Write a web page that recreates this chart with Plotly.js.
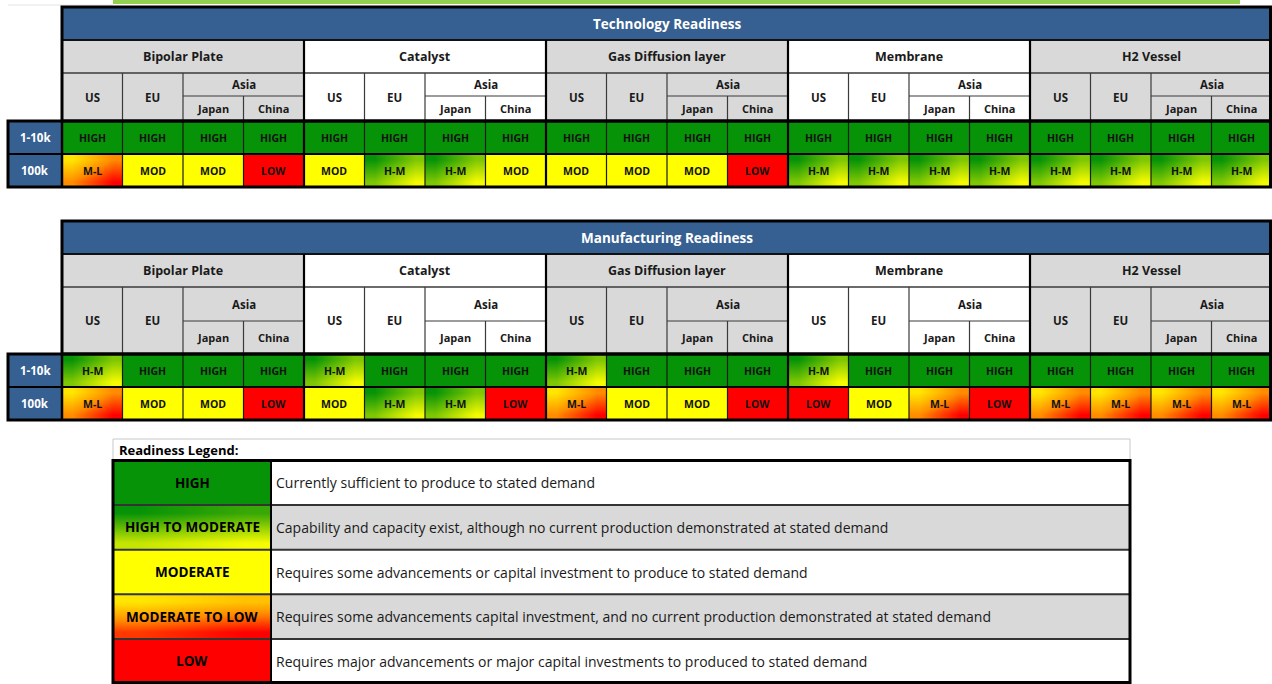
<!DOCTYPE html>
<html><head><meta charset="utf-8">
<script src="https://cdn.plot.ly/plotly-3.0.1.min.js"></script>
<style>html,body{margin:0;padding:0;background:#fff;overflow:hidden}#chart{width:1272px;height:684px}</style>
</head><body><div id="chart"></div>
<script>
// ---------------- data ----------------
const tableTitles = ['Technology Readiness', 'Manufacturing Readiness'];
const components = ['Bipolar Plate', 'Catalyst', 'Gas Diffusion layer', 'Membrane', 'H2 Vessel'];
const regions = ['US', 'EU', 'Japan', 'China'];
const regionGroup = 'Asia';
const volumes = ['1-10k', '100k'];

const techLow  = ['HIGH','HIGH','HIGH','HIGH', 'HIGH','HIGH','HIGH','HIGH', 'HIGH','HIGH','HIGH','HIGH', 'HIGH','HIGH','HIGH','HIGH', 'HIGH','HIGH','HIGH','HIGH'];
const techHigh = ['M-L','MOD','MOD','LOW', 'MOD','H-M','H-M','MOD', 'MOD','MOD','MOD','LOW', 'H-M','H-M','H-M','H-M', 'H-M','H-M','H-M','H-M'];
const mfgLow   = ['H-M','HIGH','HIGH','HIGH', 'H-M','HIGH','HIGH','HIGH', 'H-M','HIGH','HIGH','HIGH', 'H-M','HIGH','HIGH','HIGH', 'HIGH','HIGH','HIGH','HIGH'];
const mfgHigh  = ['M-L','MOD','MOD','LOW', 'MOD','H-M','H-M','LOW', 'M-L','MOD','MOD','LOW', 'LOW','MOD','M-L','LOW', 'M-L','M-L','M-L','M-L'];

const legendTitle = 'Readiness Legend:';
const legendCodes = ['HIGH', 'H-M', 'MOD', 'M-L', 'LOW'];
const legendLabels = ['HIGH', 'HIGH TO MODERATE', 'MODERATE', 'MODERATE TO LOW', 'LOW'];
const legendText = [
  'Currently sufficient to produce to stated demand',
  'Capability and capacity exist, although no current production demonstrated at stated demand',
  'Requires some advancements or capital investment to produce to stated demand',
  'Requires some advancements capital investment, and no current production demonstrated at stated demand',
  'Requires major advancements or major capital investments to produced to stated demand'
];

// ---------------- style ----------------
const FONT = '"Open Sans", "Noto Sans", sans-serif';
const BLUE = '#376092', GRAY = '#d9d9d9';
const colorscale = [[0, '#079307'], [0.5, '#ffff00'], [0.78, '#ff8c00'], [1, '#ff0000']];
const levelZ = { 'HIGH': [0, 0], 'H-M': [0.0, 0.48], 'MOD': [0.5, 0.5], 'M-L': [0.56, 1], 'LOW': [1, 1] };

const W = 1272, H = 684;
const LX = 8, L = 62, CW = 60.5, R = L + 20 * CW;
const geo = [
  { top: 7,   comp: 40,  sub: 73,  mid: 96,  data: 121, row2: 154, bottom: 187 },
  { top: 221, comp: 254, sub: 287, mid: 321, data: 354, row2: 387, bottom: 420 }
];
const tableValues = [[techLow, techHigh], [mfgLow, mfgHigh]];
const LG = { x0: 113, xm: 271, x1: 1130, t0: 439, t1: 460.5, y0: 460.5, rh: 44.6 };

const traces = [], shapes = [], annotations = [];

function cell(x0, x1, y0, y1, code, vw) {
  const [a, b] = levelZ[code];
  const n = 3, xs = [], ys = [], z = [];
  for (let i = 0; i <= n; i++) { xs.push(x0 + (x1 - x0) * i / n); ys.push(y0 + (y1 - y0) * i / n); }
  for (let r = 0; r < n; r++) {
    const row = [];
    for (let c = 0; c < n; c++) row.push(a + (b - a) * (vw * r + (1 - vw) * c) / (n - 1));
    z.push(row);
  }
  traces.push({ type: 'heatmap', x: xs, y: ys, z: z, zmin: 0, zmax: 1, colorscale: colorscale,
    showscale: false, zsmooth: a === b ? false : 'best', hoverinfo: 'skip' });
}
function rect(x0, y0, x1, y1, fill, lineColor, lw, layer) {
  shapes.push({ type: 'rect', xref: 'x', yref: 'y', x0, y0, x1, y1, fillcolor: fill || 'rgba(0,0,0,0)',
    line: { color: lineColor || 'rgba(0,0,0,0)', width: lw || 0 }, layer: layer || 'below' });
}
function line(x0, y0, x1, y1, color, w) {
  shapes.push({ type: 'line', xref: 'x', yref: 'y', x0, y0, x1, y1, line: { color, width: w }, layer: 'above' });
}
function text(x, y, t, size, color, bold, anchor) {
  annotations.push({ xref: 'x', yref: 'y', x, y, text: bold ? '<b>' + t + '</b>' : t, showarrow: false,
    xanchor: anchor || 'center', yanchor: 'middle', font: { family: FONT, size, color } });
}
const cx = k => L + k * CW;

// top decoration
rect(113, 0, 1240, 4, '#92d050');
line(LX, 5, 113, 5, '#e4e4e4', 1);

geo.forEach((g, t) => {
  rect(L, g.top, R, g.comp, BLUE);
  text((L + R) / 2, (g.top + g.comp) / 2, tableTitles[t], 13.5, '#ffffff', true);
  components.forEach((name, ci) => {
    const fill = ci % 2 === 0 ? GRAY : '#ffffff';
    const gx0 = cx(ci * 4), gx1 = cx(ci * 4 + 4);
    rect(gx0, g.comp, gx1, g.data, fill);
    text((gx0 + gx1) / 2, (g.comp + g.sub) / 2, name, 12.5, '#1a1a1a', true);
    text((cx(ci * 4) + cx(ci * 4 + 1)) / 2, (g.sub + g.data) / 2, regions[0], 11.5, '#1a1a1a', true);
    text((cx(ci * 4 + 1) + cx(ci * 4 + 2)) / 2, (g.sub + g.data) / 2, regions[1], 11.5, '#1a1a1a', true);
    text(cx(ci * 4 + 3), (g.sub + g.mid) / 2, regionGroup, 11.5, '#1a1a1a', true);
    text((cx(ci * 4 + 2) + cx(ci * 4 + 3)) / 2, (g.mid + g.data) / 2, regions[2], 11, '#1a1a1a', true);
    text((cx(ci * 4 + 3) + cx(ci * 4 + 4)) / 2, (g.mid + g.data) / 2, regions[3], 11, '#1a1a1a', true);
    line(gx0, g.sub, gx1, g.sub, '#3a3a3a', 1.5);
    line(cx(ci * 4 + 1), g.sub, cx(ci * 4 + 1), g.data, '#3a3a3a', 1.2);
    line(cx(ci * 4 + 2), g.sub, cx(ci * 4 + 2), g.data, '#3a3a3a', 1.2);
    line(cx(ci * 4 + 2), g.mid, gx1, g.mid, '#3a3a3a', 1.2);
    line(cx(ci * 4 + 3), g.mid, cx(ci * 4 + 3), g.data, '#3a3a3a', 1.2);
  });
  const rows = [[g.data, g.row2], [g.row2, g.bottom]];
  rows.forEach(([y0, y1], ri) => {
    rect(LX, y0, L, y1, BLUE);
    text((LX + L) / 2, (y0 + y1) / 2, volumes[ri], 11.5, '#ffffff', true);
    tableValues[t][ri].forEach((code, k) => {
      cell(cx(k), cx(k + 1), y0, y1, code, 0.5);
      text((cx(k) + cx(k + 1)) / 2, (y0 + y1) / 2, code, 10.5, '#111111', true);
      if (k > 0 && k % 4 !== 0) line(cx(k), y0, cx(k), y1, '#1a1a1a', 1.2);
    });
  });
  line(L, g.comp, R, g.comp, '#111', 2);
  for (let ci = 1; ci < 5; ci++) line(cx(ci * 4), g.comp, cx(ci * 4), g.bottom, '#000', 2.2);
  line(LX, g.row2, R, g.row2, '#000', 2);
  line(L, g.data, L, g.bottom, '#000', 2.5);
  rect(L, g.top, R - 1.5, g.data, null, '#000', 3, 'above');
  rect(LX, g.data, R - 1.5, g.bottom, null, '#000', 3, 'above');
});

// legend
rect(LG.x0, LG.t0, LG.x1, LG.t1, '#ffffff', '#c8c8c8', 1);
text(LG.x0 + 4, (LG.t0 + LG.t1) / 2, legendTitle, 13, '#000', true, 'left');
legendCodes.forEach((code, i) => {
  const y0 = LG.y0 + i * LG.rh, y1 = y0 + LG.rh;
  cell(LG.x0, LG.xm, y0, y1, code, 0.8);
  rect(LG.xm, y0, LG.x1, y1, i % 2 === 0 ? '#ffffff' : GRAY);
  text((LG.x0 + LG.xm) / 2, (y0 + y1) / 2, legendLabels[i], 13.5, '#000', true);
  text(LG.xm + 3, (y0 + y1) / 2, legendText[i], 14, '#1a1a1a', false, 'left');
  if (i > 0) line(LG.x0, y0, LG.x1, y0, '#333', 2);
});
line(LG.xm, LG.y0, LG.xm, LG.y0 + 5 * LG.rh, '#000', 2);
rect(LG.x0, LG.y0, LG.x1, H - 1.5, null, '#000', 3, 'above');

Plotly.newPlot('chart', traces, {
  width: W, height: H, margin: { l: 0, r: 0, t: 0, b: 0 },
  paper_bgcolor: '#ffffff', plot_bgcolor: '#ffffff', showlegend: false,
  xaxis: { range: [0, W], visible: false, fixedrange: true },
  yaxis: { range: [H, 0], visible: false, fixedrange: true },
  shapes, annotations
}, { staticPlot: true, displayModeBar: false });
</script></body></html>
